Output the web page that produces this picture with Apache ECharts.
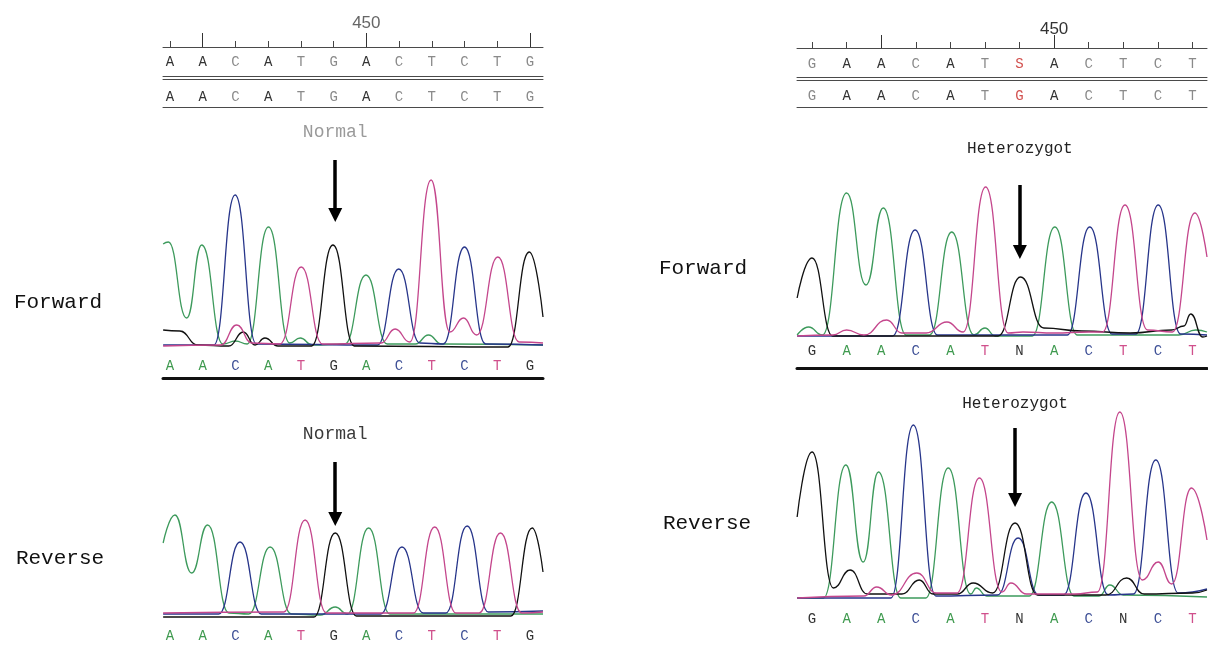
<!DOCTYPE html>
<html>
<head>
<meta charset="utf-8">
<script src="https://cdn.jsdelivr.net/npm/echarts@6/dist/echarts.min.js"></script>
<style>html,body{margin:0;padding:0;background:#fff}#c{width:1208px;height:648px}</style>
</head>
<body>
<div id="c"></div>
<script>
// ---------- sequences ----------
const normalSeqSample = ['A','A','C','A','T','G','A','C','T','C','T','G'];
const normalSeqRef    = ['A','A','C','A','T','G','A','C','T','C','T','G'];
const normalFwdCalls  = ['A','A','C','A','T','G','A','C','T','C','T','G'];
const normalRevCalls  = ['A','A','C','A','T','G','A','C','T','C','T','G'];
const hetSeqSample    = ['G','A','A','C','A','T','S','A','C','T','C','T'];
const hetSeqRef       = ['G','A','A','C','A','T','G','A','C','T','C','T'];
const hetFwdCalls     = ['G','A','A','C','A','T','N','A','C','T','C','T'];
const hetRevCalls     = ['G','A','A','C','A','T','N','A','C','N','C','T'];
const normalFirstPos = 444;
const hetFirstPos = 443;
const labelledPositions = [450];

// ---------- traces: [base index, signal] ----------
const normalFwdA = [[-0.21,103],[-0.05,105],[0.51,29],[0.97,102],[1.62,3],[2.0,6],[2.36,3],[3.01,120],[3.66,4],[3.98,9],[4.35,2],[5.34,3],[5.99,72],[6.64,3],[7.5,3],[7.9,12],[8.3,3],[11.4,2]];
const normalFwdC = [[-0.21,2],[1.34,2],[1.99,152],[2.64,3],[6.34,2],[6.99,78],[7.64,4],[8.35,3],[9.0,100],[9.65,3],[11.4,2]];
const normalFwdG = [[-0.21,17],[0.3,16],[0.85,2],[1.8,1],[2.24,15],[2.6,2],[2.9,9],[3.3,1],[4.33,1],[4.98,102],[5.63,1],[10.33,0],[10.98,95],[11.4,30]];
const normalFwdT = [[-0.21,1],[1.55,2],[2.04,22],[2.5,4],[3.36,3],[4.01,80],[4.66,3],[6.45,4],[6.88,18],[7.33,5],[7.98,167],[8.55,15],[8.97,29],[9.37,12],[10.02,90],[10.67,5],[11.4,4]];

const normalRevA = [[-0.21,74],[0.15,102],[0.66,44],[1.15,92],[1.8,4],[2.41,3],[3.06,70],[3.71,3],[4.6,2],[5.05,10],[5.42,3],[6.07,89],[6.72,3],[11.4,3]];
const normalRevC = [[-0.21,3],[1.49,3],[2.14,75],[2.79,3],[6.44,3],[7.09,70],[7.74,4],[8.43,4],[9.08,91],[9.73,5],[11.4,6]];
const normalRevG = [[-0.21,0],[4.4,0],[5.05,84],[5.7,1],[10.42,1],[11.07,89],[11.4,45]];
const normalRevT = [[-0.21,4],[3.48,5],[4.13,97],[4.78,4],[7.44,4],[8.09,90],[8.74,4],[9.45,4],[10.1,84],[10.75,4],[11.4,5]];

const hetFwdA = [[-0.43,3],[-0.1,11],[0.3,3],[1.0,145],[1.56,53],[2.06,130],[2.72,3],[3.4,3],[4.04,106],[4.68,3],[5.0,10],[5.3,2],[6.37,2],[7.02,111],[7.67,3],[10.6,3],[11.1,8],[11.42,6]];
const hetFwdC = [[-0.43,2],[2.33,2],[2.98,108],[3.63,3],[7.38,3],[8.03,111],[8.68,4],[9.36,4],[10.01,133],[10.66,4],[11.42,3]];
const hetFwdG = [[-0.43,40],[0.0,80],[0.6,2],[5.38,2],[6.03,61],[6.7,10],[7.8,7],[9.2,5],[10.4,8],[10.75,12],[10.95,24],[11.3,1],[11.42,2]];
const hetFwdT = [[-0.43,2],[0.6,3],[1.0,8],[1.5,3],[2.16,18],[2.6,5],[3.3,5],[3.9,16],[4.37,6],[5.02,151],[5.67,5],[6.1,6],[7.0,5],[8.0,6],[8.4,6],[9.05,133],[9.7,8],[10.42,6],[11.07,125],[11.42,81]];

const hetRevA = [[-0.43,0],[0.33,0],[0.98,133],[1.48,36],[1.92,126],[2.57,0],[3.29,0],[3.94,130],[4.59,4],[4.75,10],[5.05,2],[6.28,2],[6.93,96],[7.58,2],[8.3,2],[8.61,13],[9.0,3],[11.42,1]];
const hetRevC = [[-0.43,0],[2.28,0],[2.93,173],[3.58,2],[5.36,3],[5.96,60],[6.56,3],[7.27,3],[7.92,105],[8.57,3],[9.29,4],[9.94,138],[10.59,5],[11.42,9]];
const hetRevG = [[-0.43,81],[0.0,146],[0.62,10],[1.1,28],[1.6,4],[2.6,4],[3.1,18],[3.5,4],[4.2,4],[4.66,15],[5.22,5],[5.87,75],[6.52,3],[8.5,3],[9.1,20],[9.6,4],[11.0,5],[11.42,8]];
const hetRevT = [[-0.43,0],[1.5,2],[1.87,11],[2.3,3],[3.03,25],[3.6,5],[4.19,5],[4.84,120],[5.49,6],[5.75,15],[6.2,4],[7.6,4],[8.25,6],[8.9,186],[9.55,18],[10.01,36],[10.4,14],[10.97,110],[11.42,58]];

// ---------- styling ----------
const traceColor = {A:'#3d9a5c', C:'#27358a', G:'#111111', T:'#c4468c'};
const callColor = {A:'#3f9a4f', C:'#3d4f96', G:'#333333', T:'#d0508c', N:'#333333'};
const MONO = 'Liberation Mono';
const winL = {min:-0.214, max:11.4};
const winR = {min:-0.434, max:11.42};

function headerAxes(g, win, firstPos, topSeq, refSeq, m) {
  const idx = topSeq.map((_, i) => i);
  const major = idx.filter(i => (firstPos + i) % 5 === 0);
  const base = {gridIndex:g, type:'value', min:win.min, max:win.max, position:'bottom', splitLine:{show:false}};
  const line = {show:true, onZero:false, lineStyle:{color:'#4a4a4a', width:1}};
  const letterColor = seq => (v) => {
    const k = Math.round(Number(v));
    if (topSeq[k] !== refSeq[k]) return '#d2504e';
    return seq[k] === 'A' ? '#333333' : '#8a8a8a';
  };
  const letterLabel = (seq, margin) => ({show:true, customValues:idx, formatter:v => seq[Math.round(v)],
    color:letterColor(seq), fontFamily:MONO, fontSize:14, margin});
  return [
    Object.assign({}, base, {axisLine:line,
      axisTick:{show:true, inside:true, length:6, customValues:idx, lineStyle:{color:'#444'}},
      axisLabel:{show:true, inside:true, customValues:labelledPositions.map(p => p - firstPos),
        formatter:v => String(firstPos + Math.round(v)), fontFamily:'Liberation Sans', fontSize:17, color:m.numColor, margin:m.num}}),
    Object.assign({}, base, {axisLine:{show:false, onZero:false},
      axisTick:{show:true, inside:true, length:m.major, customValues:major, lineStyle:{color:'#333'}},
      axisLabel:letterLabel(topSeq, m.row1)}),
    Object.assign({}, base, {offset:m.l1, axisLine:line, axisTick:{show:false}, axisLabel:{show:false}}),
    Object.assign({}, base, {offset:m.l2, axisLine:line, axisTick:{show:false}, axisLabel:letterLabel(refSeq, m.row2)}),
    Object.assign({}, base, {offset:m.l3, axisLine:line, axisTick:{show:false}, axisLabel:{show:false}})
  ];
}
function callAxis(g, win, calls, margin) {
  return {gridIndex:g, type:'value', min:win.min, max:win.max, position:'bottom', splitLine:{show:false},
    axisLine:{show:false, onZero:false}, axisTick:{show:false},
    axisLabel:{show:true, customValues:calls.map((_, i) => i), formatter:v => calls[Math.round(v)],
      color:v => callColor[calls[Math.round(Number(v))]], fontFamily:MONO, fontSize:14, margin}};
}
function thickAxis(g, win, offset) {
  return {gridIndex:g, type:'value', min:win.min, max:win.max, position:'bottom', offset, splitLine:{show:false},
    axisLine:{show:true, onZero:false, lineStyle:{color:'#111', width:3}}, axisTick:{show:false}, axisLabel:{show:false}};
}
function arrowMark(x, y0, y1, text, color, dist, size) {
  return {silent:true, symbol:['none','triangle'], symbolSize:14,
    lineStyle:{color:'#000', width:3.5, type:'solid'},
    itemStyle:{color:'#000'},
    label:{show:true, position:'start', formatter:text, color, fontFamily:MONO, fontSize:size, distance:dist},
    emphasis:{disabled:true},
    data:[[{coord:[x, y0]}, {coord:[x, y1]}]]};
}
function traces(xi, yi, set, mark) {
  return ['A','C','G','T'].map(b => ({
    type:'line', xAxisIndex:xi, yAxisIndex:yi, data:set[b], smooth:0.5, smoothMonotone:'x',
    symbol:'none', showSymbol:false, silent:true, clip:false,
    lineStyle:{color:traceColor[b], width:1.3},
    markLine: b === 'G' ? mark : undefined
  }));
}

const xAxes = [].concat(
  headerAxes(0, winL, normalFirstPos, normalSeqSample, normalSeqRef,
    {num:15, numColor:'#666', major:14, row1:8.5, l1:29, l2:32, row2:11.5, l3:60}),
  headerAxes(1, winR, hetFirstPos, hetSeqSample, hetSeqRef,
    {num:10, numColor:'#333', major:13, row1:9.5, l1:29, l2:32, row2:9.5, l3:59}),
  [callAxis(2, winL, normalFwdCalls, 12.5), thickAxis(2, winL, 31),
   callAxis(3, winL, normalRevCalls, 12.5),
   callAxis(4, winR, hetFwdCalls, 6.5), thickAxis(4, winR, 30),
   callAxis(5, winR, hetRevCalls, 14.5)]
);
const yMax = [1, 1, 197, 197, 198, 203];
const yAxes = yMax.map((m, g) => ({gridIndex:g, type:'value', min:0, max:m, show:false}));

const series = [].concat(
  traces(10, 2, {A:normalFwdA, C:normalFwdC, G:normalFwdG, T:normalFwdT}, arrowMark(5.05, 187, 132, 'Normal', '#9a9a9a', 19, 18)),
  traces(12, 3, {A:normalRevA, C:normalRevC, G:normalRevG, T:normalRevT}, arrowMark(5.05, 155, 98, 'Normal', '#3a3a3a', 19, 18)),
  traces(13, 4, {A:hetFwdA, C:hetFwdC, G:hetFwdG, T:hetFwdT}, arrowMark(6.01, 153, 86, 'Heterozygot', '#222', 28, 16)),
  traces(15, 5, {A:hetRevA, C:hetRevC, G:hetRevG, T:hetRevT}, arrowMark(5.87, 170, 98, 'Heterozygot', '#222', 16, 16))
);

function sideText(x, y, t) {
  return {type:'text', x, y, silent:true, style:{text:t, font:'21px "Liberation Mono"', fill:'#111',
    align:'center', verticalAlign:'middle', textAlign:'center', textVerticalAlign:'middle'}};
}

const option = {
  animation:false,
  backgroundColor:'#ffffff',
  grid:[
    {left:163, top:20, width:380, height:27},
    {left:797, top:21, width:410, height:27},
    {left:163, top:150, width:380, height:197},
    {left:163, top:420, width:380, height:197},
    {left:797, top:140, width:410, height:198},
    {left:797, top:395, width:410, height:203}
  ],
  xAxis:xAxes,
  yAxis:yAxes,
  series,
  graphic:[
    sideText(58, 302, 'Forward'),
    sideText(703, 268, 'Forward'),
    sideText(60, 558, 'Reverse'),
    sideText(707, 523, 'Reverse')
  ]
};
const chart = echarts.init(document.getElementById('c'));
chart.setOption(option);
</script>
</body>
</html>
